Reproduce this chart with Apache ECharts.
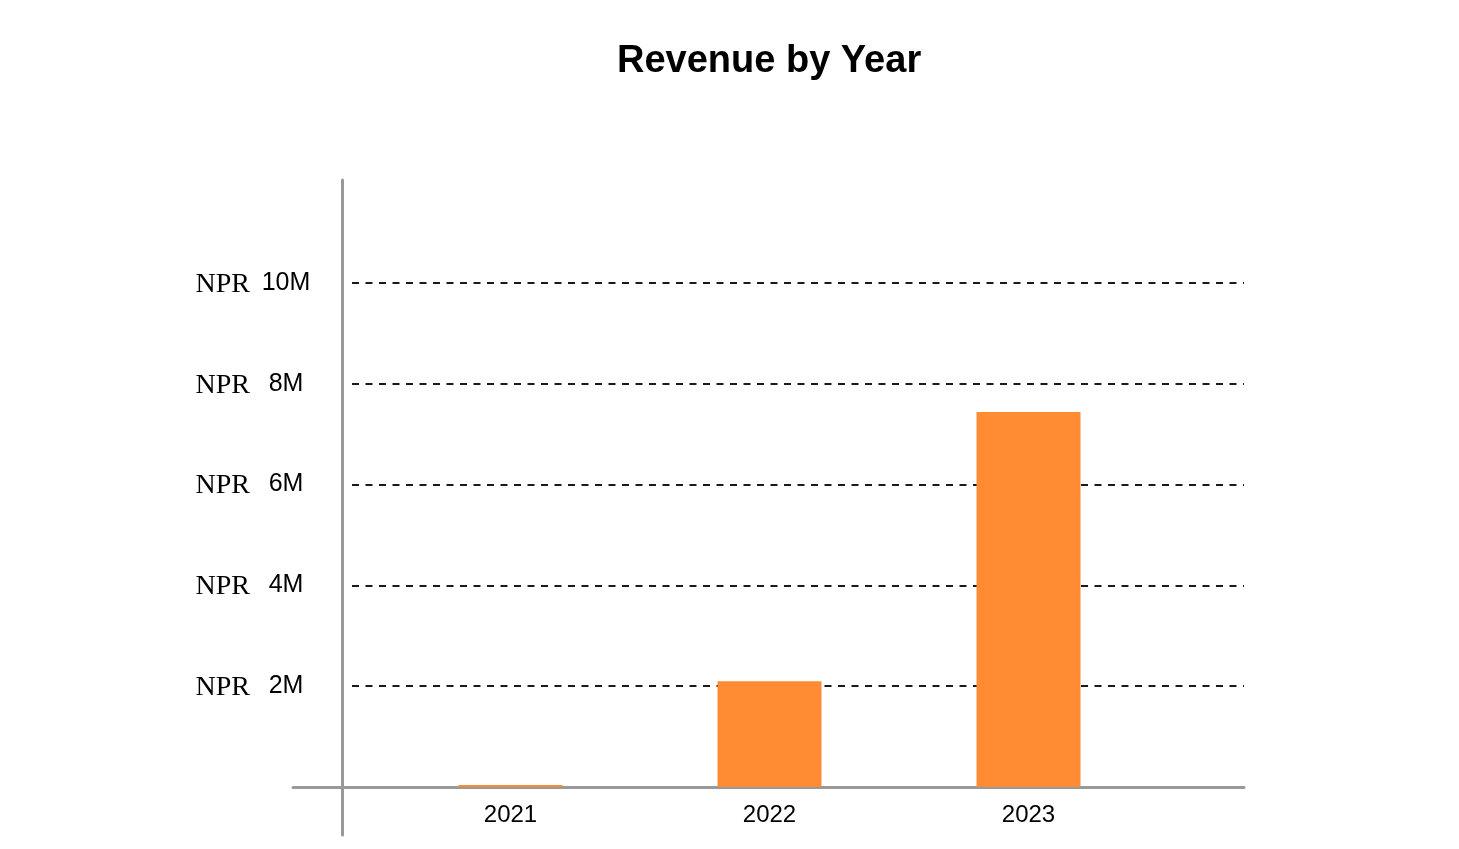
<!DOCTYPE html>
<html>
<head>
<meta charset="utf-8">
<title>Revenue by Year</title>
<script src="https://cdn.jsdelivr.net/npm/echarts@6/dist/echarts.min.js"></script>
<style>
  html, body { margin: 0; padding: 0; background: #fff; }
  #main { width: 1459px; height: 849px; }
</style>
</head>
<body>
<div id="main"></div>
<script>
// data
const years = ['2021', '2022', '2023'];
const revenue = [30000, 2100000, 7440000];
const yMax = 12000000;
const yStep = 2000000;

function tickLabel(value) {
  if (value <= 0 || value >= yMax) return '';
  return '{n|NPR}{v|' + (value / 1000000) + 'M}';
}

function loadChart() {
  var chartDom = document.getElementById('main');
  var myChart = echarts.init(chartDom);
  var axisGray = '#999999';
  var option;

  option = {
    animation: false,
    title: {
      text: 'Revenue by Year',
      left: 612,
      top: 38,
      textStyle: { fontFamily: 'Liberation Sans', fontWeight: 'bold', fontSize: 38, color: '#000' }
    },
    grid: [
      // bars
      { left: 381, right: 301, top: 182, bottom: 62 },
      // dashed lines + y labels
      { left: 352, right: 215, top: 182, bottom: 62 },
      // x axis line
      { left: 293, right: 215, top: 182, bottom: 62 },
      // y axis line
      { left: 342, width: 10, top: 180, bottom: 14 }
    ],
    xAxis: [
      {
        gridIndex: 0,
        type: 'category',
        data: years,
        axisLine: { show: false },
        axisTick: { show: false },
        axisLabel: { margin: 16, fontFamily: 'Liberation Sans', fontSize: 24, color: '#000' }
      },
      { gridIndex: 1, type: 'value', show: false, min: 0, max: 1 },
      {
        gridIndex: 2, type: 'value', min: 0, max: 1,
        axisLine: { show: true, lineStyle: { color: axisGray, width: 3 } },
        axisTick: { show: false }, axisLabel: { show: false }, splitLine: { show: false }
      },
      { gridIndex: 3, type: 'value', show: false, min: 0, max: 1 }
    ],
    yAxis: [
      { gridIndex: 0, type: 'value', min: 0, max: yMax, show: false },
      {
        gridIndex: 1,
        type: 'value',
        min: 0,
        max: yMax,
        interval: yStep,
        axisLine: { show: false },
        axisTick: { show: false },
        axisLabel: {
          margin: 41,
          formatter: tickLabel,
          rich: {
            n: { fontFamily: 'Liberation Serif', fontSize: 28, color: '#000', padding: [3, 11, 0, 0] },
            v: { fontFamily: 'Liberation Sans', fontSize: 25, color: '#000', width: 50, align: 'center' }
          }
        },
        splitLine: {
          show: true,
          showMinLine: false,
          showMaxLine: false,
          lineStyle: { color: '#1a1a1a', width: 2, type: [7, 6.5] }
        }
      },
      { gridIndex: 2, type: 'value', show: false, min: 0, max: 1 },
      {
        gridIndex: 3, type: 'value', min: 0, max: 1,
        axisLine: { show: true, lineStyle: { color: axisGray, width: 3 } },
        axisTick: { show: false }, axisLabel: { show: false }, splitLine: { show: false }
      }
    ],
    series: [
      {
        type: 'bar',
        xAxisIndex: 0,
        yAxisIndex: 0,
        data: revenue,
        barWidth: 104,
        barMinHeight: 2,
        itemStyle: { color: '#ff8c33' },
        z: 3
      }
    ]
  };

  myChart.setOption(option);
}

document.addEventListener('DOMContentLoaded', () => {
  loadChart();
});
</script>
</body>
</html>
